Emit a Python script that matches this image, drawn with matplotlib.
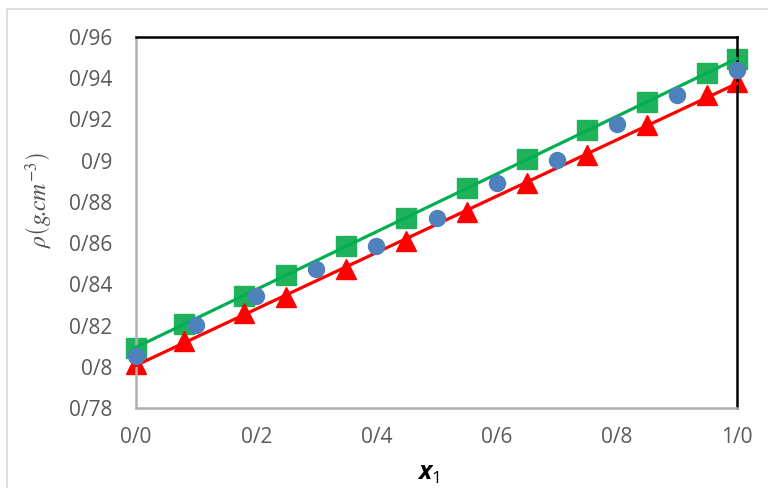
import matplotlib
matplotlib.use('Agg')
import matplotlib.pyplot as plt
from matplotlib.patches import Rectangle
import numpy as np

# data
x_sq = [0.0, 0.08, 0.18, 0.25, 0.35, 0.45, 0.55, 0.65, 0.75, 0.85, 0.95, 1.0]
rho_sq = [0.8091, 0.8208, 0.8345, 0.8447, 0.8588, 0.8724, 0.8865, 0.9006, 0.9148, 0.9284, 0.9425, 0.9493]

x_tri = [0.0, 0.08, 0.18, 0.25, 0.35, 0.45, 0.55, 0.65, 0.75, 0.85, 0.95, 1.0]
rho_tri = [0.8014, 0.8126, 0.8262, 0.8340, 0.8476, 0.8612, 0.8753, 0.8890, 0.9026, 0.9172, 0.9318, 0.9381]

x_circ = [0.0, 0.1, 0.2, 0.3, 0.4, 0.5, 0.6, 0.7, 0.8, 0.9, 1.0]
rho_circ = [0.8053, 0.8203, 0.8345, 0.8476, 0.8588, 0.8724, 0.8890, 0.9001, 0.9177, 0.9318, 0.9439]

xticks = [0.0, 0.2, 0.4, 0.6, 0.8, 1.0]
xtick_labels = ['0/0', '0/2', '0/4', '0/6', '0/8', '1/0']
yticks = [0.78, 0.80, 0.82, 0.84, 0.86, 0.88, 0.90, 0.92, 0.94, 0.96]
ytick_labels = ['0/78', '0/8', '0/82', '0/84', '0/86', '0/88', '0/9', '0/92', '0/94', '0/96']

plt.rcParams['font.family'] = ['Open Sans', 'DejaVu Sans']
plt.rcParams['mathtext.fontset'] = 'custom'
plt.rcParams['mathtext.it'] = 'Open Sans:italic:bold'
plt.rcParams['mathtext.rm'] = 'Open Sans'

fig = plt.figure(figsize=(7.68, 4.88), dpi=100)
ax = fig.add_axes([136/768, 1-408/488, (737-136)/768, (408-37)/488])

green = '#1fb25a'
green_line = '#00b050'
red = '#ff0000'
blue = '#4f81bd'

ax.plot(x_sq, rho_sq, 's', ms=14, color=green, mec=green, zorder=2, clip_on=False)
ax.plot(x_tri, rho_tri, '^', ms=15, color=red, zorder=2, clip_on=False)

# linear trendlines
xx = np.array([0.0, 1.0])
for xs, ys, c in [(x_sq, rho_sq, green_line), (x_tri, rho_tri, red)]:
    k, b = np.polyfit(xs, ys, 1)
    ax.plot(xx, k*xx + b, '-', color=c, lw=2.3, zorder=3, clip_on=False)

ax.plot(x_circ, rho_circ, 'o', ms=11.5, color=blue, zorder=4, clip_on=False)

ax.set_xlim(0, 1)
ax.set_ylim(0.78, 0.96)
ax.set_xticks(xticks)
ax.set_xticklabels(xtick_labels)
ax.set_yticks(yticks)
ax.set_yticklabels(ytick_labels)
ax.tick_params(length=0, labelsize=15, colors='#595959')
ax.tick_params(axis='y', pad=17)
ax.tick_params(axis='x', pad=14)

for s in ['top', 'right']:
    ax.spines[s].set_color('black')
    ax.spines[s].set_linewidth(1.8)
for s in ['left', 'bottom']:
    ax.spines[s].set_color('#b0b0b0')
    ax.spines[s].set_linewidth(1.8)

fig.text(38/768, 1-200/488, r'$\rho\left(g\!.\!cm^{-3}\right)$', rotation=90, ha='center', va='center',
         fontsize=17, color='#505050', math_fontfamily='stix')
fig.text(428/768, 1-474/488, r'$x_1$', ha='center', va='center', fontsize=18, color='black')

# outer chart border
fig.patches.append(Rectangle((7/768, -0.1), 1.1, 1.1 - 9/488, transform=fig.transFigure,
                             fill=False, edgecolor='#d9d9d9', lw=1.2))

fig.savefig('out.png', dpi=100)
